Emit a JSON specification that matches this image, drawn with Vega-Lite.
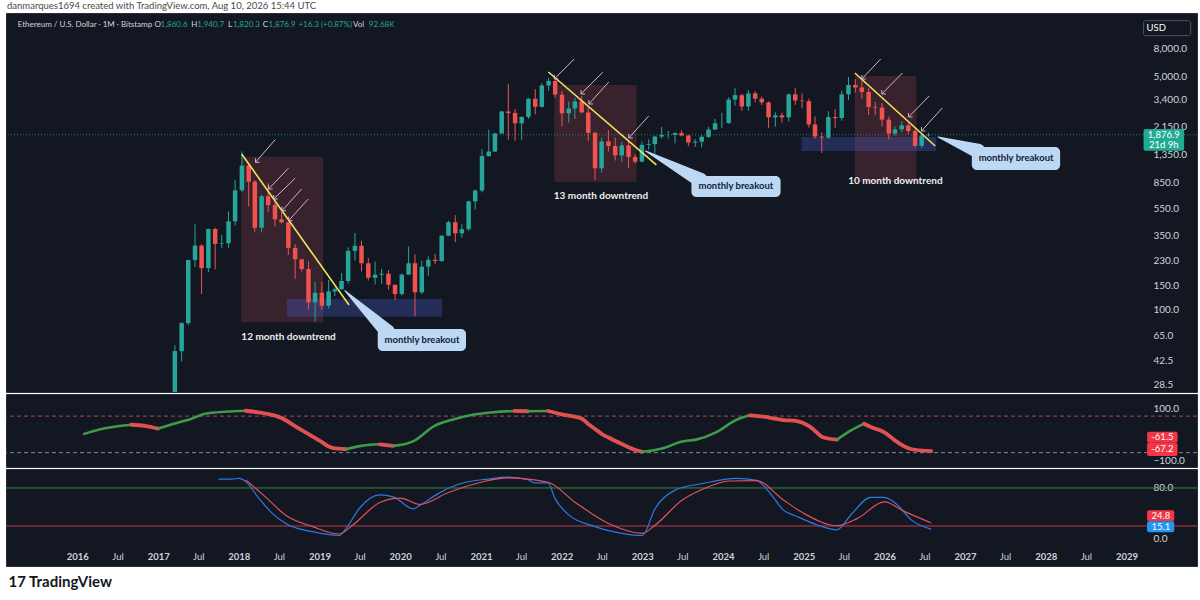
{
"$schema":"https://vega.github.io/schema/vega-lite/v6.json",
"background":"white",
"padding":{"left":5,"right":4,"top":1,"bottom":0},
"title":{"text":"danmarques1694 created with TradingView.com, Aug 10, 2026 15:44 UTC","anchor":"start","fontSize":9.5,"fontWeight":"normal","color":"#4a4a4a","offset":2,"dx":2},
"spacing":0,
"resolve":{"scale":{"color":"independent","stroke":"independent","fill":"independent","size":"independent","strokeWidth":"independent"}},
"config":{"font":"Lato","view":{"fill":"#131722","stroke":"#2a2e39"},"axis":{"grid":false,"domain":false,"ticks":false,"labelColor":"#d1d4dc","labelFontSize":10}},
"datasets":{
"candles":[
{"d":"2017-03-01","o":16,"h":55,"l":15.7,"c":50},
{"d":"2017-04-01","o":50,"h":81,"l":42,"c":80},
{"d":"2017-05-01","o":80,"h":231,"l":77,"c":230},
{"d":"2017-06-01","o":230,"h":420,"l":205,"c":293},
{"d":"2017-07-01","o":293,"h":300,"l":130,"c":201},
{"d":"2017-08-01","o":201,"h":390,"l":188,"c":387},
{"d":"2017-09-01","o":387,"h":395,"l":197,"c":302},
{"d":"2017-10-01","o":302,"h":350,"l":282,"c":305},
{"d":"2017-11-01","o":305,"h":520,"l":282,"c":440},
{"d":"2017-12-01","o":440,"h":880,"l":410,"c":740},
{"d":"2018-01-01","o":740,"h":1420,"l":715,"c":1120},
{"d":"2018-02-01","o":1120,"h":1160,"l":565,"c":855},
{"d":"2018-03-01","o":855,"h":880,"l":370,"c":395},
{"d":"2018-04-01","o":395,"h":690,"l":365,"c":670},
{"d":"2018-05-01","o":670,"h":835,"l":515,"c":578},
{"d":"2018-06-01","o":578,"h":625,"l":405,"c":455},
{"d":"2018-07-01","o":455,"h":515,"l":425,"c":433},
{"d":"2018-08-01","o":433,"h":435,"l":250,"c":282},
{"d":"2018-09-01","o":282,"h":300,"l":168,"c":233},
{"d":"2018-10-01","o":233,"h":235,"l":190,"c":198},
{"d":"2018-11-01","o":198,"h":225,"l":100,"c":113},
{"d":"2018-12-01","o":113,"h":160,"l":82,"c":133},
{"d":"2019-01-01","o":133,"h":160,"l":100,"c":107},
{"d":"2019-02-01","o":107,"h":165,"l":102,"c":136},
{"d":"2019-03-01","o":136,"h":145,"l":126,"c":141},
{"d":"2019-04-01","o":141,"h":185,"l":140,"c":162},
{"d":"2019-05-01","o":162,"h":285,"l":155,"c":268},
{"d":"2019-06-01","o":268,"h":362,"l":228,"c":292},
{"d":"2019-07-01","o":292,"h":318,"l":190,"c":218},
{"d":"2019-08-01","o":218,"h":238,"l":163,"c":171},
{"d":"2019-09-01","o":171,"h":224,"l":153,"c":180},
{"d":"2019-10-01","o":180,"h":198,"l":155,"c":183},
{"d":"2019-11-01","o":183,"h":194,"l":140,"c":152},
{"d":"2019-12-01","o":152,"h":153,"l":118,"c":130},
{"d":"2020-01-01","o":130,"h":184,"l":127,"c":180},
{"d":"2020-02-01","o":180,"h":288,"l":180,"c":218},
{"d":"2020-03-01","o":218,"h":253,"l":90,"c":134},
{"d":"2020-04-01","o":134,"h":228,"l":130,"c":206},
{"d":"2020-05-01","o":206,"h":245,"l":177,"c":231},
{"d":"2020-06-01","o":231,"h":255,"l":215,"c":226},
{"d":"2020-07-01","o":226,"h":349,"l":224,"c":346},
{"d":"2020-08-01","o":346,"h":445,"l":345,"c":434},
{"d":"2020-09-01","o":434,"h":488,"l":310,"c":360},
{"d":"2020-10-01","o":360,"h":420,"l":335,"c":386},
{"d":"2020-11-01","o":386,"h":622,"l":375,"c":615},
{"d":"2020-12-01","o":615,"h":750,"l":535,"c":737},
{"d":"2021-01-01","o":737,"h":1475,"l":715,"c":1313},
{"d":"2021-02-01","o":1313,"h":2040,"l":1300,"c":1417},
{"d":"2021-03-01","o":1417,"h":1945,"l":1410,"c":1918},
{"d":"2021-04-01","o":1918,"h":2795,"l":1910,"c":2775},
{"d":"2021-05-01","o":2775,"h":4380,"l":1730,"c":2706},
{"d":"2021-06-01","o":2706,"h":2890,"l":1700,"c":2275},
{"d":"2021-07-01","o":2275,"h":2550,"l":1720,"c":2535},
{"d":"2021-08-01","o":2535,"h":3470,"l":2450,"c":3433},
{"d":"2021-09-01","o":3433,"h":4030,"l":2650,"c":3000},
{"d":"2021-10-01","o":3000,"h":4460,"l":2970,"c":4290},
{"d":"2021-11-01","o":4290,"h":4870,"l":3920,"c":4630},
{"d":"2021-12-01","o":4630,"h":4780,"l":3500,"c":3680},
{"d":"2022-01-01","o":3680,"h":3900,"l":2160,"c":2690},
{"d":"2022-02-01","o":2690,"h":3280,"l":2300,"c":2920},
{"d":"2022-03-01","o":2920,"h":3480,"l":2450,"c":3280},
{"d":"2022-04-01","o":3280,"h":3580,"l":2700,"c":2730},
{"d":"2022-05-01","o":2730,"h":2960,"l":1700,"c":1940},
{"d":"2022-06-01","o":1940,"h":1970,"l":880,"c":1070},
{"d":"2022-07-01","o":1070,"h":1780,"l":1000,"c":1680},
{"d":"2022-08-01","o":1680,"h":2030,"l":1420,"c":1555},
{"d":"2022-09-01","o":1555,"h":1790,"l":1220,"c":1328},
{"d":"2022-10-01","o":1328,"h":1660,"l":1190,"c":1572},
{"d":"2022-11-01","o":1572,"h":1680,"l":1075,"c":1295},
{"d":"2022-12-01","o":1295,"h":1352,"l":1160,"c":1196},
{"d":"2023-01-01","o":1196,"h":1680,"l":1190,"c":1585},
{"d":"2023-02-01","o":1585,"h":1740,"l":1460,"c":1605},
{"d":"2023-03-01","o":1605,"h":1850,"l":1370,"c":1822},
{"d":"2023-04-01","o":1822,"h":2140,"l":1760,"c":1870},
{"d":"2023-05-01","o":1870,"h":2000,"l":1760,"c":1875},
{"d":"2023-06-01","o":1875,"h":1950,"l":1625,"c":1935},
{"d":"2023-07-01","o":1935,"h":2030,"l":1825,"c":1855},
{"d":"2023-08-01","o":1855,"h":1880,"l":1550,"c":1645},
{"d":"2023-09-01","o":1645,"h":1750,"l":1530,"c":1672},
{"d":"2023-10-01","o":1672,"h":1865,"l":1520,"c":1815},
{"d":"2023-11-01","o":1815,"h":2140,"l":1780,"c":2050},
{"d":"2023-12-01","o":2050,"h":2450,"l":2045,"c":2280},
{"d":"2024-01-01","o":2280,"h":2715,"l":2100,"c":2285},
{"d":"2024-02-01","o":2285,"h":3520,"l":2265,"c":3385},
{"d":"2024-03-01","o":3385,"h":4095,"l":3060,"c":3645},
{"d":"2024-04-01","o":3645,"h":3730,"l":2810,"c":3015},
{"d":"2024-05-01","o":3015,"h":3975,"l":2810,"c":3760},
{"d":"2024-06-01","o":3760,"h":3890,"l":3240,"c":3440},
{"d":"2024-07-01","o":3440,"h":3560,"l":3090,"c":3230},
{"d":"2024-08-01","o":3230,"h":3280,"l":2110,"c":2515},
{"d":"2024-09-01","o":2515,"h":2730,"l":2150,"c":2600},
{"d":"2024-10-01","o":2600,"h":2720,"l":2300,"c":2515},
{"d":"2024-11-01","o":2515,"h":3740,"l":2350,"c":3700},
{"d":"2024-12-01","o":3700,"h":4110,"l":3100,"c":3335},
{"d":"2025-01-01","o":3335,"h":3750,"l":2920,"c":3300},
{"d":"2025-02-01","o":3300,"h":3440,"l":2120,"c":2235},
{"d":"2025-03-01","o":2235,"h":2550,"l":1760,"c":1823},
{"d":"2025-04-01","o":1823,"h":1955,"l":1385,"c":1795},
{"d":"2025-05-01","o":1795,"h":2790,"l":1750,"c":2530},
{"d":"2025-06-01","o":2530,"h":2880,"l":2110,"c":2485},
{"d":"2025-07-01","o":2485,"h":3940,"l":2375,"c":3700},
{"d":"2025-08-01","o":3700,"h":4950,"l":3350,"c":4330},
{"d":"2025-09-01","o":4330,"h":4770,"l":3820,"c":4145},
{"d":"2025-10-01","o":4145,"h":4760,"l":3440,"c":3850},
{"d":"2025-11-01","o":3850,"h":4100,"l":2620,"c":2990},
{"d":"2025-12-01","o":2990,"h":3250,"l":2600,"c":2960},
{"d":"2026-01-01","o":2960,"h":3200,"l":2170,"c":2420},
{"d":"2026-02-01","o":2420,"h":2550,"l":1740,"c":1915},
{"d":"2026-03-01","o":1915,"h":2150,"l":1850,"c":2055},
{"d":"2026-04-01","o":2055,"h":2360,"l":1960,"c":2200},
{"d":"2026-05-01","o":2200,"h":2280,"l":1900,"c":2000},
{"d":"2026-06-01","o":2000,"h":2080,"l":1520,"c":1560},
{"d":"2026-07-01","o":1560,"h":1915,"l":1500,"c":1860.6},
{"d":"2026-08-01","o":1860.6,"h":1940.7,"l":1820.3,"c":1876.9}
],
"boxes":[
{"d1":"2017-12-29","d2":"2019-01-07","p1":1301,"p2":81.1,"kind":"down"},
{"d1":"2021-11-27","d2":"2022-12-08","p1":4325,"p2":851,"kind":"down"},
{"d1":"2025-08-30","d2":"2026-06-07","p1":5029,"p2":851,"kind":"down"},
{"d1":"2018-07-25","d2":"2020-07-03","p1":119.8,"p2":89.1,"kind":"zone"},
{"d1":"2024-12-29","d2":"2026-09-05","p1":1809,"p2":1431,"kind":"zone"}
],
"tlines":[
{"d1":"2017-12-31","p1":1361,"d2":"2019-05-05","p2":108.3},
{"d1":"2021-10-31","p1":5379,"d2":"2023-03-08","p2":1132},
{"d1":"2025-08-30","p1":5289,"d2":"2026-09-01","p2":1556}
],
"arrows":[
{"d1":"2018-06-02","p1":1729,"d2":"2018-03-04","p2":1184},
{"d1":"2018-08-01","p1":1071,"d2":"2018-05-03","p2":757},
{"d1":"2018-09-01","p1":906,"d2":"2018-05-26","p2":640},
{"d1":"2018-10-01","p1":757,"d2":"2018-07-03","p2":526},
{"d1":"2018-10-31","p1":640,"d2":"2018-08-02","p2":445},
{"d1":"2022-02-26","p1":6688,"d2":"2021-11-27","p2":4783},
{"d1":"2022-07-06","p1":5352,"d2":"2022-03-29","p2":3720},
{"d1":"2022-08-03","p1":4548,"d2":"2022-05-04","p2":3146},
{"d1":"2023-02-01","p1":2573,"d2":"2022-11-02","p2":1780},
{"d1":"2025-12-26","p1":6688,"d2":"2025-10-01","p2":4783},
{"d1":"2026-04-04","p1":5289,"d2":"2025-12-31","p2":3720},
{"d1":"2026-08-05","p1":3597,"d2":"2026-05-02","p2":2530},
{"d1":"2026-10-03","p1":2942,"d2":"2026-06-30","p2":2001}
],
"labels":[
{"d":"2018-08-02","p":63.4,"txt":"12 month downtrend"},
{"d":"2022-06-28","p":673,"txt":"13 month downtrend"},
{"d":"2026-03-03","p":865.6,"txt":"10 month downtrend"}
],
"callouts":[
{"id":1,"d1":"2019-09-13","d2":"2020-10-20","p1":72.5,"p2":50.1,"dt":"2020-04-02","pt":60.3,"txt":"monthly breakout"},
{"id":2,"d1":"2023-08-15","d2":"2024-09-25","p1":941,"p2":662,"dt":"2024-03-05","pt":789.5,"txt":"monthly breakout"},
{"id":3,"d1":"2027-02-15","d2":"2028-03-24","p1":1530,"p2":1041,"dt":"2027-09-05","pt":1262,"txt":"monthly breakout"}
],
"pointers":[
{"id":1,"d":"2019-04-16","p":137.7,"end":0},
{"id":1,"d":"2019-10-28","p":68.9,"end":1},
{"id":2,"d":"2023-01-18","p":1431,"end":0},
{"id":2,"d":"2023-09-24","p":880,"end":1},
{"id":3,"d":"2026-09-14","p":1809,"end":0},
{"id":3,"d":"2027-03-15","p":1431,"end":1}
],
"legend":[
{"d":"2015-03-15","p":11820,"txt":"Ethereum / U.S. Dollar · 1M · Bitstamp","kind":"lab"},
{"d":"2016-11-28","p":11820,"txt":"O","kind":"lab"},
{"d":"2016-12-26","p":11820,"txt":"1,860.6","kind":"val"},
{"d":"2017-05-15","p":11820,"txt":"H","kind":"lab"},
{"d":"2017-06-11","p":11820,"txt":"1,940.7","kind":"val"},
{"d":"2017-10-29","p":11820,"txt":"L","kind":"lab"},
{"d":"2017-11-21","p":11820,"txt":"1,820.3","kind":"val"},
{"d":"2018-04-06","p":11820,"txt":"C","kind":"lab"},
{"d":"2018-05-03","p":11820,"txt":"1,876.9","kind":"val"},
{"d":"2018-09-16","p":11820,"txt":"+16.3 (+0.87%)","kind":"val"},
{"d":"2019-05-23","p":11820,"txt":"Vol","kind":"lab"},
{"d":"2019-08-03","p":11820,"txt":"92.68K","kind":"val"}
],
"pbox":[
{"d1":"2029-04-09","d2":"2029-10-11","p1":2069,"p2":1438,"kind":"price"},
{"d1":"2029-04-09","d2":"2029-11-10","p1":12705,"p2":9890,"kind":"usd"}
],
"ptext":[
{"d":"2029-07-10","p":1871,"txt":"1,876.9"},
{"d":"2029-07-10","p":1582,"txt":"21d 9h"},
{"d":"2029-06-06","p":11190,"txt":"USD"}
],
"osc":[
{"d":"2016-02-01","v":2,"s":1,"dir":"up"},{"d":"2016-04-01","v":17,"s":1,"dir":"up"},{"d":"2016-07-01","v":31,"s":1,"dir":"up"},{"d":"2016-09-01","v":37,"s":1,"dir":"up"},
{"d":"2016-09-01","v":37,"s":2,"dir":"down"},{"d":"2016-11-01","v":33,"s":2,"dir":"down"},{"d":"2017-01-01","v":22,"s":2,"dir":"down"},
{"d":"2017-01-01","v":22,"s":3,"dir":"up"},{"d":"2017-03-01","v":38,"s":3,"dir":"up"},{"d":"2017-06-01","v":60,"s":3,"dir":"up"},{"d":"2017-08-01","v":79,"s":3,"dir":"up"},{"d":"2017-11-01","v":87,"s":3,"dir":"up"},{"d":"2018-02-01","v":90.5,"s":3,"dir":"up"},
{"d":"2018-02-01","v":90.5,"s":4,"dir":"down"},{"d":"2018-05-01","v":80,"s":4,"dir":"down"},{"d":"2018-07-01","v":67,"s":4,"dir":"down"},{"d":"2018-10-01","v":22,"s":4,"dir":"down"},{"d":"2019-01-01","v":-24,"s":4,"dir":"down"},{"d":"2019-03-01","v":-52,"s":4,"dir":"down"},{"d":"2019-05-01","v":-57,"s":4,"dir":"down"},
{"d":"2019-05-01","v":-57,"s":5,"dir":"up"},{"d":"2019-07-01","v":-45,"s":5,"dir":"up"},{"d":"2019-10-01","v":-38,"s":5,"dir":"up"},
{"d":"2019-10-01","v":-38,"s":6,"dir":"down"},{"d":"2019-12-01","v":-44,"s":6,"dir":"down"},
{"d":"2019-12-01","v":-44,"s":7,"dir":"up"},{"d":"2020-02-01","v":-35,"s":7,"dir":"up"},{"d":"2020-03-01","v":-26,"s":7,"dir":"up"},{"d":"2020-06-01","v":31,"s":7,"dir":"up"},{"d":"2020-09-01","v":58,"s":7,"dir":"up"},{"d":"2020-12-01","v":76,"s":7,"dir":"up"},{"d":"2021-03-01","v":85,"s":7,"dir":"up"},{"d":"2021-06-01","v":89.8,"s":7,"dir":"up"},
{"d":"2021-06-01","v":89.8,"s":8,"dir":"down"},{"d":"2021-08-01","v":88.6,"s":8,"dir":"down"},
{"d":"2021-08-01","v":88.6,"s":9,"dir":"up"},{"d":"2021-11-01","v":89.6,"s":9,"dir":"up"},
{"d":"2021-11-01","v":89.6,"s":10,"dir":"down"},{"d":"2022-01-01","v":77,"s":10,"dir":"down"},{"d":"2022-03-01","v":68,"s":10,"dir":"down"},{"d":"2022-04-01","v":61,"s":10,"dir":"down"},{"d":"2022-05-01","v":40,"s":10,"dir":"down"},{"d":"2022-06-01","v":21,"s":10,"dir":"down"},{"d":"2022-07-01","v":2,"s":10,"dir":"down"},{"d":"2022-08-01","v":-12,"s":10,"dir":"down"},{"d":"2022-10-01","v":-37,"s":10,"dir":"down"},{"d":"2022-12-01","v":-60,"s":10,"dir":"down"},{"d":"2023-01-01","v":-67,"s":10,"dir":"down"},
{"d":"2023-01-01","v":-67,"s":11,"dir":"up"},{"d":"2023-04-01","v":-54,"s":11,"dir":"up"},{"d":"2023-07-01","v":-27,"s":11,"dir":"up"},{"d":"2023-09-01","v":-20,"s":11,"dir":"up"},{"d":"2023-12-01","v":8,"s":11,"dir":"up"},{"d":"2024-03-01","v":55,"s":11,"dir":"up"},{"d":"2024-05-01","v":73,"s":11,"dir":"up"},
{"d":"2024-05-01","v":73,"s":12,"dir":"down"},{"d":"2024-07-01","v":68,"s":12,"dir":"down"},{"d":"2024-10-01","v":55,"s":12,"dir":"down"},{"d":"2024-12-01","v":51,"s":12,"dir":"down"},{"d":"2025-02-01","v":28,"s":12,"dir":"down"},{"d":"2025-04-01","v":-12,"s":12,"dir":"down"},{"d":"2025-06-01","v":-20,"s":12,"dir":"down"},
{"d":"2025-06-01","v":-20,"s":13,"dir":"up"},{"d":"2025-08-01","v":14,"s":13,"dir":"up"},{"d":"2025-10-01","v":41,"s":13,"dir":"up"},
{"d":"2025-10-01","v":41,"s":14,"dir":"down"},{"d":"2025-11-01","v":28,"s":14,"dir":"down"},{"d":"2026-01-01","v":8,"s":14,"dir":"down"},{"d":"2026-03-01","v":-30,"s":14,"dir":"down"},{"d":"2026-05-01","v":-56,"s":14,"dir":"down"},{"d":"2026-08-01","v":-64,"s":14,"dir":"down"}
],
"levels2":[{"lv":70,"kind":"upper"},{"lv":-70,"kind":"lower"}],
"b2":[
{"d1":"2029-04-04","d2":"2029-08-20","dt":"2029-06-12","v1":10.5,"v2":-31.6,"vt":-10.6,"txt":"-61.5"},
{"d1":"2029-04-04","d2":"2029-08-20","dt":"2029-06-12","v1":-31.6,"v2":-82.5,"vt":-56.8,"txt":"-67.2"}
],
"stoch":[
{"d":"2017-10-01","v":94,"k":"K"},{"d":"2017-12-01","v":94,"k":"K"},{"d":"2018-01-01","v":95,"k":"K"},{"d":"2018-02-01","v":90,"k":"K"},{"d":"2018-04-01","v":64,"k":"K"},{"d":"2018-06-01","v":40,"k":"K"},{"d":"2018-08-01","v":24,"k":"K"},{"d":"2018-12-01","v":11,"k":"K"},{"d":"2019-04-01","v":5,"k":"K"},{"d":"2019-05-01","v":16,"k":"K"},{"d":"2019-07-01","v":48,"k":"K"},{"d":"2019-10-01","v":69,"k":"K"},{"d":"2019-12-01","v":66,"k":"K"},{"d":"2020-03-01","v":47,"k":"K"},{"d":"2020-04-01","v":53,"k":"K"},{"d":"2020-07-01","v":73,"k":"K"},{"d":"2020-10-01","v":87,"k":"K"},{"d":"2021-02-01","v":94,"k":"K"},{"d":"2021-05-01","v":97,"k":"K"},{"d":"2021-08-01","v":93,"k":"K"},{"d":"2021-09-01","v":88,"k":"K"},{"d":"2021-11-01","v":88,"k":"K"},{"d":"2021-12-01","v":64,"k":"K"},{"d":"2022-02-01","v":38,"k":"K"},{"d":"2022-06-01","v":19,"k":"K"},{"d":"2022-10-01","v":8.5,"k":"K"},{"d":"2023-01-01","v":5,"k":"K"},{"d":"2023-03-01","v":48,"k":"K"},{"d":"2023-06-01","v":77,"k":"K"},{"d":"2023-10-01","v":87,"k":"K"},{"d":"2024-03-01","v":95,"k":"K"},{"d":"2024-06-01","v":92,"k":"K"},{"d":"2024-08-01","v":72,"k":"K"},{"d":"2024-10-01","v":45,"k":"K"},{"d":"2024-12-01","v":35,"k":"K"},{"d":"2025-03-01","v":22,"k":"K"},{"d":"2025-06-01","v":14,"k":"K"},{"d":"2025-08-01","v":37,"k":"K"},{"d":"2025-11-01","v":65,"k":"K"},{"d":"2026-01-01","v":65,"k":"K"},{"d":"2026-03-01","v":53,"k":"K"},{"d":"2026-05-01","v":30,"k":"K"},{"d":"2026-08-01","v":15.1,"k":"K"},
{"d":"2018-02-01","v":92.6,"k":"D"},{"d":"2018-05-01","v":66,"k":"D"},{"d":"2018-08-01","v":37,"k":"D"},{"d":"2018-12-01","v":19,"k":"D"},{"d":"2019-04-01","v":7.4,"k":"D"},{"d":"2019-06-01","v":21.6,"k":"D"},{"d":"2019-10-01","v":57,"k":"D"},{"d":"2020-01-01","v":64,"k":"D"},{"d":"2020-04-01","v":54,"k":"D"},{"d":"2020-08-01","v":72,"k":"D"},{"d":"2021-01-01","v":89,"k":"D"},{"d":"2021-05-01","v":96,"k":"D"},{"d":"2021-11-01","v":89,"k":"D"},{"d":"2022-03-01","v":58,"k":"D"},{"d":"2022-08-01","v":24,"k":"D"},{"d":"2023-01-01","v":8.5,"k":"D"},{"d":"2023-03-01","v":21.6,"k":"D"},{"d":"2023-07-01","v":61,"k":"D"},{"d":"2023-10-01","v":78,"k":"D"},{"d":"2024-02-01","v":91,"k":"D"},{"d":"2024-06-01","v":91.5,"k":"D"},{"d":"2024-10-01","v":61,"k":"D"},{"d":"2025-01-01","v":40,"k":"D"},{"d":"2025-06-01","v":20.5,"k":"D"},{"d":"2025-09-01","v":32,"k":"D"},{"d":"2026-01-01","v":58,"k":"D"},{"d":"2026-04-01","v":43,"k":"D"},{"d":"2026-08-01","v":24.8,"k":"D"}
],
"levels3":[{"lv":80,"kind":"upper"},{"lv":20,"kind":"lower"}],
"b3":[
{"d1":"2029-04-04","d2":"2029-08-05","dt":"2029-06-06","v1":44.8,"v2":27.4,"vt":36.1,"txt":"24.8","kind":"D"},
{"d1":"2029-04-04","d2":"2029-08-05","dt":"2029-06-06","v1":27.4,"v2":10.1,"vt":18.8,"txt":"15.1","kind":"K"}
]
},
"vconcat":[
{
"width":1191,"height":379,
"layer":[
{"data":{"name":"boxes","format":{"parse":{"d1":"date","d2":"date"}}},
"transform":[{"filter":"datum.kind == 'down'"}],
"mark":{"type":"rect","color":"#f05a6a","opacity":0.17,"clip":true},
"encoding":{
"x":{"field":"d1","type":"temporal","scale":{"type":"utc","domain":[{"year":2015,"month":2,"date":12,"utc":true},{"year":2029,"month":11,"date":16,"utc":true}],"nice":false},"axis":null},
"x2":{"field":"d2"},
"y":{"field":"p1","type":"quantitative","scale":{"type":"log","domain":[25.2,14455],"nice":false},
"axis":{"orient":"right","offset":-44,"values":[28.5,42.5,65,100,150,230,350,550,850,1350,2150,3400,5000,8000],"format":",.1f","labelPadding":0,"labelAlign":"left","labelBaseline":"middle","title":null,"domain":false,"ticks":false,"grid":false,"labelOverlap":false,"labelBound":false,"labelFlush":false,"labelColor":"#d1d4dc","labelFontSize":10}},
"y2":{"field":"p2"}}},
{"data":{"name":"boxes","format":{"parse":{"d1":"date","d2":"date"}}},
"transform":[{"filter":"datum.kind == 'zone'"}],
"mark":{"type":"rect","color":"#4d5fd6","opacity":0.3,"clip":true},
"encoding":{
"x":{"field":"d1","type":"temporal","scale":{"type":"utc","domain":[{"year":2015,"month":2,"date":12,"utc":true},{"year":2029,"month":11,"date":16,"utc":true}],"nice":false},"axis":null},
"x2":{"field":"d2"},
"y":{"field":"p1","type":"quantitative","scale":{"type":"log","domain":[25.2,14455],"nice":false}},
"y2":{"field":"p2"}}},
{"data":{"name":"candles","format":{"parse":{"d":"date"}}},
"transform":[{"filter":"utcyear(datum.d) == 2026 && utcmonth(datum.d) == 7"}],
"mark":{"type":"rule","color":"#26a69a","strokeDash":[1,2],"opacity":0.75},
"encoding":{"y":{"field":"c","type":"quantitative","scale":{"type":"log","domain":[25.2,14455],"nice":false}}}},
{"data":{"name":"candles","format":{"parse":{"d":"date"}}},
"mark":{"type":"rule","strokeWidth":1,"clip":true},
"encoding":{
"x":{"field":"d","type":"temporal","scale":{"type":"utc","domain":[{"year":2015,"month":2,"date":12,"utc":true},{"year":2029,"month":11,"date":16,"utc":true}],"nice":false},"axis":null},
"y":{"field":"l","type":"quantitative","scale":{"type":"log","domain":[25.2,14455],"nice":false}},
"y2":{"field":"h"},
"color":{"condition":{"test":"datum.c >= datum.o","value":"#26a69a"},"value":"#ef5350"}}},
{"data":{"name":"candles","format":{"parse":{"d":"date"}}},
"mark":{"type":"bar","size":4.5,"clip":true},
"encoding":{
"x":{"field":"d","type":"temporal","scale":{"type":"utc","domain":[{"year":2015,"month":2,"date":12,"utc":true},{"year":2029,"month":11,"date":16,"utc":true}],"nice":false},"axis":null},
"y":{"field":"o","type":"quantitative","scale":{"type":"log","domain":[25.2,14455],"nice":false}},
"y2":{"field":"c"},
"color":{"condition":{"test":"datum.c >= datum.o","value":"#26a69a"},"value":"#ef5350"}}},
{"data":{"name":"tlines","format":{"parse":{"d1":"date","d2":"date"}}},
"mark":{"type":"rule","color":"#f2e35b","strokeWidth":1.6},
"encoding":{
"x":{"field":"d1","type":"temporal","scale":{"type":"utc","domain":[{"year":2015,"month":2,"date":12,"utc":true},{"year":2029,"month":11,"date":16,"utc":true}],"nice":false},"axis":null},
"x2":{"field":"d2"},
"y":{"field":"p1","type":"quantitative","scale":{"type":"log","domain":[25.2,14455],"nice":false}},
"y2":{"field":"p2"}}},
{"data":{"name":"arrows","format":{"parse":{"d1":"date","d2":"date"}}},
"mark":{"type":"rule","color":"#d9b3c7","strokeWidth":1},
"encoding":{
"x":{"field":"d1","type":"temporal","scale":{"type":"utc","domain":[{"year":2015,"month":2,"date":12,"utc":true},{"year":2029,"month":11,"date":16,"utc":true}],"nice":false},"axis":null},
"x2":{"field":"d2"},
"y":{"field":"p1","type":"quantitative","scale":{"type":"log","domain":[25.2,14455],"nice":false}},
"y2":{"field":"p2"}}},
{"data":{"name":"arrows","format":{"parse":{"d1":"date","d2":"date"}}},
"mark":{"type":"point","shape":"M0,-1L0,0L1,0","filled":false,"size":64,"stroke":"#d9b3c7","strokeWidth":1,"opacity":1},
"encoding":{
"x":{"field":"d2","type":"temporal","scale":{"type":"utc","domain":[{"year":2015,"month":2,"date":12,"utc":true},{"year":2029,"month":11,"date":16,"utc":true}],"nice":false},"axis":null},
"y":{"field":"p2","type":"quantitative","scale":{"type":"log","domain":[25.2,14455],"nice":false}}}},
{"data":{"name":"labels","format":{"parse":{"d":"date"}}},
"mark":{"type":"text","color":"#eeeeee","fontSize":10,"fontWeight":"bold","align":"center","baseline":"middle"},
"encoding":{
"x":{"field":"d","type":"temporal","scale":{"type":"utc","domain":[{"year":2015,"month":2,"date":12,"utc":true},{"year":2029,"month":11,"date":16,"utc":true}],"nice":false},"axis":null},
"y":{"field":"p","type":"quantitative","scale":{"type":"log","domain":[25.2,14455],"nice":false}},
"text":{"field":"txt"}}},
{"data":{"name":"pointers","format":{"parse":{"d":"date"}}},
"mark":{"type":"trail","color":"#bcd8f5","opacity":1},
"encoding":{
"x":{"field":"d","type":"temporal","scale":{"type":"utc","domain":[{"year":2015,"month":2,"date":12,"utc":true},{"year":2029,"month":11,"date":16,"utc":true}],"nice":false},"axis":null},
"y":{"field":"p","type":"quantitative","scale":{"type":"log","domain":[25.2,14455],"nice":false}},
"size":{"field":"end","type":"quantitative","scale":{"domain":[0,1],"range":[0,15]},"legend":null},
"detail":{"field":"id","type":"nominal"}}},
{"data":{"name":"callouts","format":{"parse":{"d1":"date","d2":"date"}}},
"mark":{"type":"rect","color":"#bcd8f5","cornerRadius":5},
"encoding":{
"x":{"field":"d1","type":"temporal","scale":{"type":"utc","domain":[{"year":2015,"month":2,"date":12,"utc":true},{"year":2029,"month":11,"date":16,"utc":true}],"nice":false},"axis":null},
"x2":{"field":"d2"},
"y":{"field":"p1","type":"quantitative","scale":{"type":"log","domain":[25.2,14455],"nice":false}},
"y2":{"field":"p2"}}},
{"data":{"name":"callouts","format":{"parse":{"dt":"date"}}},
"mark":{"type":"text","color":"#0f1d33","fontSize":9.5,"fontWeight":"bold","align":"center","baseline":"middle"},
"encoding":{
"x":{"field":"dt","type":"temporal","scale":{"type":"utc","domain":[{"year":2015,"month":2,"date":12,"utc":true},{"year":2029,"month":11,"date":16,"utc":true}],"nice":false},"axis":null},
"y":{"field":"pt","type":"quantitative","scale":{"type":"log","domain":[25.2,14455],"nice":false}},
"text":{"field":"txt"}}},
{"data":{"name":"legend","format":{"parse":{"d":"date"}}},
"mark":{"type":"text","fontSize":8,"align":"left","baseline":"middle"},
"encoding":{
"x":{"field":"d","type":"temporal","scale":{"type":"utc","domain":[{"year":2015,"month":2,"date":12,"utc":true},{"year":2029,"month":11,"date":16,"utc":true}],"nice":false},"axis":null},
"y":{"field":"p","type":"quantitative","scale":{"type":"log","domain":[25.2,14455],"nice":false}},
"text":{"field":"txt"},
"color":{"field":"kind","type":"nominal","scale":{"domain":["lab","val"],"range":["#d1d4dc","#26a69a"]},"legend":null}}},
{"data":{"name":"pbox","format":{"parse":{"d1":"date","d2":"date"}}},
"transform":[{"filter":"datum.kind == 'usd'"}],
"mark":{"type":"rect","fill":"#131722","stroke":"#50535e","strokeWidth":1,"cornerRadius":2},
"encoding":{
"x":{"field":"d1","type":"temporal","scale":{"type":"utc","domain":[{"year":2015,"month":2,"date":12,"utc":true},{"year":2029,"month":11,"date":16,"utc":true}],"nice":false},"axis":null},
"x2":{"field":"d2"},
"y":{"field":"p1","type":"quantitative","scale":{"type":"log","domain":[25.2,14455],"nice":false}},
"y2":{"field":"p2"}}},
{"data":{"name":"pbox","format":{"parse":{"d1":"date","d2":"date"}}},
"transform":[{"filter":"datum.kind == 'price'"}],
"mark":{"type":"rect","fill":"#22ab94","cornerRadius":2},
"encoding":{
"x":{"field":"d1","type":"temporal","scale":{"type":"utc","domain":[{"year":2015,"month":2,"date":12,"utc":true},{"year":2029,"month":11,"date":16,"utc":true}],"nice":false},"axis":null},
"x2":{"field":"d2"},
"y":{"field":"p1","type":"quantitative","scale":{"type":"log","domain":[25.2,14455],"nice":false}},
"y2":{"field":"p2"}}},
{"data":{"name":"ptext","format":{"parse":{"d":"date"}}},
"mark":{"type":"text","color":"#ffffff","fontSize":9.5,"align":"center","baseline":"middle"},
"encoding":{
"x":{"field":"d","type":"temporal","scale":{"type":"utc","domain":[{"year":2015,"month":2,"date":12,"utc":true},{"year":2029,"month":11,"date":16,"utc":true}],"nice":false},"axis":null},
"y":{"field":"p","type":"quantitative","scale":{"type":"log","domain":[25.2,14455],"nice":false}},
"text":{"field":"txt"}}}
]
},
{
"width":1191,"height":73,
"layer":[
{"data":{"name":"levels2"},
"mark":{"type":"rule","strokeDash":[4,3],"strokeWidth":1},
"encoding":{
"y":{"field":"lv","type":"quantitative","scale":{"domain":[-124.9,154.7],"nice":false,"zero":false},
"axis":{"orient":"right","offset":-44,"values":[100,-100],"format":".1f","labelPadding":0,"labelAlign":"left","labelBaseline":"middle","title":null,"domain":false,"ticks":false,"grid":false,"labelOverlap":false,"labelBound":false,"labelFlush":false,"labelColor":"#d1d4dc","labelFontSize":10}},
"stroke":{"field":"kind","type":"nominal","scale":{"domain":["upper","lower"],"range":["#a8485a","#868993"]},"legend":null}}},
{"data":{"name":"osc","format":{"parse":{"d":"date"}}},
"mark":{"type":"line","interpolate":"monotone","strokeCap":"round"},
"encoding":{
"x":{"field":"d","type":"temporal","scale":{"type":"utc","domain":[{"year":2015,"month":2,"date":12,"utc":true},{"year":2029,"month":11,"date":16,"utc":true}],"nice":false},"axis":null},
"y":{"field":"v","type":"quantitative","scale":{"domain":[-124.9,154.7],"nice":false,"zero":false}},
"color":{"field":"dir","type":"nominal","scale":{"domain":["up","down"],"range":["#3f9a4c","#e05252"]},"legend":null},
"strokeWidth":{"field":"dir","type":"nominal","scale":{"domain":["up","down"],"range":[2.6,3.8]},"legend":null},
"detail":{"field":"s","type":"nominal"}}},
{"data":{"name":"b2","format":{"parse":{"d1":"date","d2":"date"}}},
"mark":{"type":"rect","fill":"#f23645","cornerRadius":2},
"encoding":{
"x":{"field":"d1","type":"temporal","scale":{"type":"utc","domain":[{"year":2015,"month":2,"date":12,"utc":true},{"year":2029,"month":11,"date":16,"utc":true}],"nice":false},"axis":null},
"x2":{"field":"d2"},
"y":{"field":"v1","type":"quantitative","scale":{"domain":[-124.9,154.7],"nice":false,"zero":false}},
"y2":{"field":"v2"}}},
{"data":{"name":"b2","format":{"parse":{"dt":"date"}}},
"mark":{"type":"text","color":"#ffffff","fontSize":9.5,"align":"center","baseline":"middle"},
"encoding":{
"x":{"field":"dt","type":"temporal","scale":{"type":"utc","domain":[{"year":2015,"month":2,"date":12,"utc":true},{"year":2029,"month":11,"date":16,"utc":true}],"nice":false},"axis":null},
"y":{"field":"vt","type":"quantitative","scale":{"domain":[-124.9,154.7],"nice":false,"zero":false}},
"text":{"field":"txt"}}}
]
},
{
"width":1191,"height":97,
"title":{"text":"17 TradingView","orient":"bottom","anchor":"start","fontSize":15,"fontWeight":"bold","color":"#131722","offset":9,"dx":3},
"layer":[
{"data":{"name":"levels3"},
"mark":{"type":"rule","strokeWidth":1},
"encoding":{
"y":{"field":"lv","type":"quantitative","scale":{"domain":[-43.1,109.9],"nice":false,"zero":false},
"axis":{"orient":"right","offset":-44,"values":[80,0],"format":".1f","labelPadding":0,"labelAlign":"left","labelBaseline":"middle","title":null,"domain":false,"ticks":false,"grid":false,"labelOverlap":false,"labelBound":false,"labelFlush":false,"labelColor":"#d1d4dc","labelFontSize":10}},
"stroke":{"field":"kind","type":"nominal","scale":{"domain":["upper","lower"],"range":["#3a8a44","#c23a47"]},"legend":null}}},
{"data":{"name":"stoch","format":{"parse":{"d":"date"}}},
"mark":{"type":"line","strokeWidth":1.2,"interpolate":"monotone"},
"encoding":{
"x":{"field":"d","type":"temporal","scale":{"type":"utc","domain":[{"year":2015,"month":2,"date":12,"utc":true},{"year":2029,"month":11,"date":16,"utc":true}],"nice":false},
"axis":{"orient":"bottom","offset":-22,"title":null,"domain":false,"ticks":false,"grid":false,"labelPadding":12,"labelBaseline":"middle","labelAlign":"center","labelColor":"#d1d4dc","labelFontSize":9.5,"labelOverlap":false,"labelFlush":false,"labelBound":false,
"values":[{"year":2016,"month":1,"date":1,"utc":true},{"year":2016,"month":7,"date":1,"utc":true},{"year":2017,"month":1,"date":1,"utc":true},{"year":2017,"month":7,"date":1,"utc":true},{"year":2018,"month":1,"date":1,"utc":true},{"year":2018,"month":7,"date":1,"utc":true},{"year":2019,"month":1,"date":1,"utc":true},{"year":2019,"month":7,"date":1,"utc":true},{"year":2020,"month":1,"date":1,"utc":true},{"year":2020,"month":7,"date":1,"utc":true},{"year":2021,"month":1,"date":1,"utc":true},{"year":2021,"month":7,"date":1,"utc":true},{"year":2022,"month":1,"date":1,"utc":true},{"year":2022,"month":7,"date":1,"utc":true},{"year":2023,"month":1,"date":1,"utc":true},{"year":2023,"month":7,"date":1,"utc":true},{"year":2024,"month":1,"date":1,"utc":true},{"year":2024,"month":7,"date":1,"utc":true},{"year":2025,"month":1,"date":1,"utc":true},{"year":2025,"month":7,"date":1,"utc":true},{"year":2026,"month":1,"date":1,"utc":true},{"year":2026,"month":7,"date":1,"utc":true},{"year":2027,"month":1,"date":1,"utc":true},{"year":2027,"month":7,"date":1,"utc":true},{"year":2028,"month":1,"date":1,"utc":true},{"year":2028,"month":7,"date":1,"utc":true},{"year":2029,"month":1,"date":1,"utc":true}],
"labelExpr":"utcmonth(datum.value) == 0 ? utcFormat(datum.value, '%Y') : 'Jul'",
"labelFontWeight":{"condition":{"test":"utcmonth(datum.value) == 0","value":"bold"},"value":"normal"}}},
"y":{"field":"v","type":"quantitative","scale":{"domain":[-43.1,109.9],"nice":false,"zero":false}},
"color":{"field":"k","type":"nominal","scale":{"domain":["K","D"],"range":["#2e7be0","#e2525c"]},"legend":null}}},
{"data":{"name":"b3","format":{"parse":{"d1":"date","d2":"date"}}},
"mark":{"type":"rect","cornerRadius":2},
"encoding":{
"x":{"field":"d1","type":"temporal","scale":{"type":"utc","domain":[{"year":2015,"month":2,"date":12,"utc":true},{"year":2029,"month":11,"date":16,"utc":true}],"nice":false}},
"x2":{"field":"d2"},
"y":{"field":"v1","type":"quantitative","scale":{"domain":[-43.1,109.9],"nice":false,"zero":false}},
"y2":{"field":"v2"},
"fill":{"field":"kind","type":"nominal","scale":{"domain":["K","D"],"range":["#2196f3","#f23645"]},"legend":null}}},
{"data":{"name":"b3","format":{"parse":{"dt":"date"}}},
"mark":{"type":"text","color":"#ffffff","fontSize":9.5,"align":"center","baseline":"middle"},
"encoding":{
"x":{"field":"dt","type":"temporal","scale":{"type":"utc","domain":[{"year":2015,"month":2,"date":12,"utc":true},{"year":2029,"month":11,"date":16,"utc":true}],"nice":false}},
"y":{"field":"vt","type":"quantitative","scale":{"domain":[-43.1,109.9],"nice":false,"zero":false}},
"text":{"field":"txt"}}}
]
}
]
}
